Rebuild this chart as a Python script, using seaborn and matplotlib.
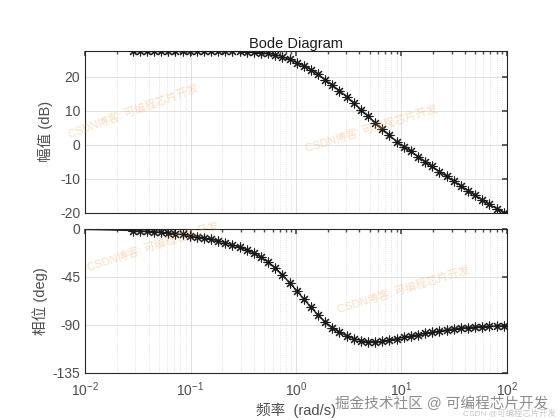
import numpy as np
import pandas as pd
import matplotlib
matplotlib.use("Agg")
import matplotlib.pyplot as plt
import seaborn as sns

# marker frequencies (rad/s)
freq = [0.0282, 0.0330, 0.0385, 0.0450, 0.0526, 0.0614, 0.0718, 0.0839, 0.0982,
        0.1146, 0.1340, 0.1567, 0.1828, 0.2138, 0.2500, 0.2917, 0.3412, 0.3990,
        0.4667, 0.5445, 0.6368, 0.7447, 0.8690, 1.016, 1.189, 1.390, 1.622,
        1.897, 2.218, 2.588, 3.027, 3.540, 4.130, 4.831, 5.649, 6.607, 7.709,
        9.016, 10.54, 12.30, 14.39, 16.83, 19.63, 22.96, 26.85, 31.33, 36.64,
        42.85, 50.12, 58.48, 68.39, 79.98, 93.33]

mag_db = [27.6, 27.6, 27.6, 27.6, 27.6, 27.6, 27.6, 27.6, 27.6,
          27.6, 27.6, 27.6, 27.6, 27.6, 27.6, 27.5, 27.4, 27.3,
          27.1, 26.9, 26.5, 25.9, 25.1, 24.2, 23.2, 22.1, 20.7,
          19.1, 17.5, 15.9, 14.1, 12.2, 10.3, 8.4, 6.5, 4.6, 2.8,
          0.9, -0.6, -2.0, -3.5, -5.0, -6.4, -7.9, -9.3, -10.7, -12.1,
          -13.5, -14.9, -16.3, -17.6, -18.8, -20.0]

phase_deg = [-1.6, -1.9, -2.2, -2.6, -3.1, -3.7, -4.4, -5.2, -6.2,
             -7.2, -8.4, -9.7, -11.2, -13.0, -15.0, -17.2, -19.6, -22.7,
             -26.5, -31.0, -36.5, -43.0, -50.5, -58.0, -65.8, -73.5, -80.8,
             -87.2, -92.6, -96.8, -100.2, -102.8, -104.6, -105.6, -105.9, -105.2, -104.0,
             -102.8, -101.6, -100.4, -99.2, -98.0, -96.8, -95.7, -94.6, -93.7, -93.0,
             -92.4, -91.9, -91.5, -91.2, -91.0, -90.9]

# solid response line reaches further than the markers
line_freq_lo = [0.01, 0.0141, 0.02]
line_mag_lo = [27.6, 27.6, 27.6]
line_phase_lo = [-0.6, -0.85, -1.2]
line_freq_hi = [100.0]
line_mag_hi = [-20.6]
line_phase_hi = [-90.8]

marks = pd.DataFrame({"freq": freq, "mag": mag_db, "phase": phase_deg})
line = pd.DataFrame({
    "freq": line_freq_lo + freq + line_freq_hi,
    "mag": line_mag_lo + mag_db + line_mag_hi,
    "phase": line_phase_lo + phase_deg + line_phase_hi,
})

sns.set_theme(style="white")
plt.rcParams["font.family"] = ["Liberation Sans", "Noto Sans CJK SC", "DejaVu Sans"]
plt.rcParams["axes.unicode_minus"] = False

tick_col = "#4d4d4d"
star = (8, 2, 0)

fig = plt.figure(figsize=(5.6, 4.2), dpi=100)
ax1 = fig.add_axes([0.152, 0.493, 0.753, 0.386])
ax2 = fig.add_axes([0.152, 0.112, 0.753, 0.343])

for ax, col in [(ax1, "mag"), (ax2, "phase")]:
    ax.set_xscale("log")
    sns.lineplot(data=line, x="freq", y=col, color="k", linewidth=0.9,
                 sort=False, ax=ax)
    sns.scatterplot(data=marks, x="freq", y=col, marker=star, s=42,
                    color="k", linewidth=0.8, ax=ax, zorder=3)
    ax.set_xlim(0.01, 100)
    ax.grid(which="major", color="#dadada", linewidth=0.6)
    ax.grid(which="minor", axis="x", color="#d8d8d8", linestyle=":", linewidth=0.6)
    ax.tick_params(which="both", direction="in", top=True, right=True,
                   labelsize=10, colors=tick_col, labelcolor=tick_col)
    ax.tick_params(which="major", length=3.5)
    ax.tick_params(which="minor", length=2)
    ax.tick_params(axis="x", which="major", pad=5)
    for s in ax.spines.values():
        s.set_color("#262626")
        s.set_linewidth(0.8)
    ax.set_axisbelow(True)

ax1.set_ylim(-20.1, 27.65)
ax1.set_yticks([-20, -10, 0, 10, 20])
ax1.tick_params(axis="x", which="both", labelbottom=False)
ax1.set_xlabel("")
ax1.set_ylabel("幅值 (dB)", fontsize=10.5, color=tick_col, labelpad=5)
ax1.set_title("Bode Diagram", fontsize=10.5, color="k", pad=2)

ax2.set_ylim(-135, 0)
ax2.set_yticks([-135, -90, -45, 0])
ax2.set_ylabel("相位 (deg)", fontsize=10.5, color=tick_col, labelpad=3)
ax2.set_xlabel("频率  (rad/s)", fontsize=10.5, color=tick_col, labelpad=3)

# watermarks
wm = "CSDN博客: 可编程芯片开发"
for x, y, r in [(0.238, 0.735, 20), (0.664, 0.693, 17), (0.273, 0.412, 18), (0.72, 0.31, 17)]:
    fig.text(x, y, wm, fontsize=8, color="#f0a050", alpha=0.35, rotation=r,
             ha="center", va="center")
fig.text(0.979, 0.038, "掘金技术社区 @ 可编程芯片开发", fontsize=10.5,
         color="#808080", ha="right", va="center", alpha=0.9)
fig.text(0.992, 0.014, "CSDN @可编程芯片开发", fontsize=6, color="#c8c8c8",
         ha="right", va="center")

fig.savefig("out.png", dpi=100)
